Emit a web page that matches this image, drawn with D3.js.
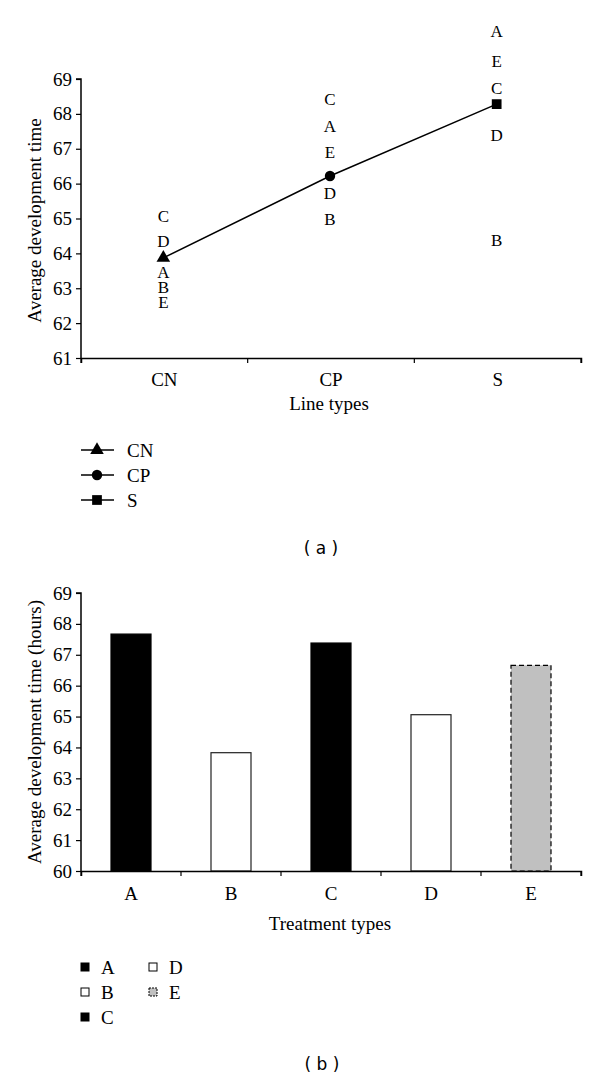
<!DOCTYPE html>
<html>
<head>
<meta charset="utf-8">
<script src="https://cdn.jsdelivr.net/npm/d3@7"></script>
<style>
  html, body { margin: 0; padding: 0; background: #fff; }
</style>
</head>
<body>
<svg id="chart" width="600" height="1078"></svg>
<script>
// ---- Data ----
const lineTypes = ["CN", "CP", "S"];
const lineMeans = [63.87, 66.22, 68.28];
const topTicks = [61, 62, 63, 64, 65, 66, 67, 68, 69];

const treatments = ["A", "B", "C", "D", "E"];
// treatment letter positions for each line type (order A, B, C, D, E)
const cnLetters = [63.44, 63.03, 65.05, 64.33, 62.58];
const cpLetters = [67.63, 64.96, 68.40, 65.71, 66.88];
const sLetters  = [70.36, 64.37, 68.73, 67.37, 69.50];

const treatmentMeans = [67.67, 63.83, 67.38, 65.06, 66.66];
const bottomTicks = [60, 61, 62, 63, 64, 65, 66, 67, 68, 69];
const barFills = ["#000000", "#ffffff", "#000000", "#ffffff", "#c0c0c0"];
const barDash = [null, null, null, null, "5,3"];

const SERIF = '"Liberation Serif", "Times New Roman", serif';
const SANS = '"DejaVu Sans", "Liberation Sans", sans-serif';
const FS = 19;

const svg = d3.select("#chart");
function serif(sel, size) {
  return sel.style("font-family", SERIF).style("font-size", (size || FS) + "px").style("fill", "#000");
}

// ================= (a) line chart =================
const a = { left: 81, right: 581, top: 79, bottom: 358 };
const xA = d3.scaleBand().domain(lineTypes).range([a.left, a.right]);
const yA = d3.scaleLinear().domain([61, 69]).range([a.bottom, a.top]);

const gA = svg.append("g");
const yAxisA = gA.append("g").attr("transform", `translate(${a.left},0)`)
  .call(d3.axisLeft(yA).tickValues(topTicks).tickSize(5).tickPadding(4).tickFormat(d3.format("d")));
const xAxisA = gA.append("g").attr("transform", `translate(0,${a.bottom})`)
  .call(d3.axisBottom(xA).tickSize(5).tickPadding(10));
xAxisA.selectAll(".tick line").remove();
xAxisA.selectAll(".bnd").data(d3.range(lineTypes.length + 1)).enter().append("line")
  .attr("x1", i => a.left + i * xA.step()).attr("x2", i => a.left + i * xA.step())
  .attr("y1", 0).attr("y2", 5).attr("stroke", "#000").attr("stroke-width", 1.2);
[yAxisA, xAxisA].forEach(ax => {
  ax.select(".domain").attr("stroke", "#000").attr("stroke-width", 1.5);
  ax.selectAll(".tick line").attr("stroke", "#000").attr("stroke-width", 1.2);
  serif(ax.selectAll("text"));
});
yAxisA.select(".domain").attr("d", `M-5,${a.top}H0V${a.bottom}`);

serif(gA.append("text").attr("transform", `translate(34,${(a.top + a.bottom) / 2 + 2}) rotate(-90)`)
  .attr("text-anchor", "middle").attr("dominant-baseline", "central"))
  .text("Average development time");
serif(gA.append("text").attr("x", (a.left + a.right) / 2 - 2).attr("y", 410)
  .attr("text-anchor", "middle")).text("Line types");

const ptsA = lineTypes.map((c, i) => [xA(c) + xA.bandwidth() / 2 - 1, yA(lineMeans[i])]);
gA.append("path").attr("d", d3.line()(ptsA)).attr("fill", "none").attr("stroke", "#000").attr("stroke-width", 1.5);
const symTypes = [d3.symbolTriangle, d3.symbolCircle, d3.symbolSquare];
const symSizes = [80, 85, 95];
ptsA.forEach((p, i) => {
  gA.append("path").attr("d", d3.symbol().type(symTypes[i]).size(symSizes[i])())
    .attr("transform", `translate(${p[0]},${p[1]})`).attr("fill", "#000");
});

const letterSets = [cnLetters, cpLetters, sLetters];
letterSets.forEach((vals, i) => {
  const cx = xA(lineTypes[i]) + xA.bandwidth() / 2 - 1;
  serif(gA.selectAll(null).data(vals).enter().append("text")
    .attr("x", cx).attr("y", v => yA(v))
    .attr("text-anchor", "middle").attr("dominant-baseline", "central"), 17)
    .text((v, j) => treatments[j]);
});

// legend (a)
const legA = svg.append("g");
lineTypes.forEach((c, i) => {
  const y = 450 + i * 25;
  legA.append("line").attr("x1", 81).attr("x2", 114).attr("y1", y).attr("y2", y).attr("stroke", "#000").attr("stroke-width", 1.5);
  legA.append("path").attr("d", d3.symbol().type(symTypes[i]).size(symSizes[i])())
    .attr("transform", `translate(97,${y})`).attr("fill", "#000");
  serif(legA.append("text").attr("x", 127).attr("y", y).attr("dominant-baseline", "central")).text(c);
});
svg.append("text").attr("x", 321).attr("y", 548).attr("text-anchor", "middle")
  .attr("dominant-baseline", "central")
  .style("font-family", SANS).style("font-size", "17px").text("( a )");

// ================= (b) bar chart =================
const b = { left: 81, right: 581, top: 593, bottom: 871 };
const xBb = d3.scaleBand().domain(treatments).range([b.left, b.right]);
const yB = d3.scaleLinear().domain([60, 69]).range([b.bottom, b.top]);
const barW = xBb.bandwidth() * 0.4;

const gB = svg.append("g");
gB.selectAll("rect.bar").data(treatments).enter().append("rect")
  .attr("class", "bar")
  .attr("x", d => xBb(d) + xBb.bandwidth() / 2 - barW / 2)
  .attr("width", barW)
  .attr("y", (d, i) => yB(treatmentMeans[i]))
  .attr("height", (d, i) => yB(60) - yB(treatmentMeans[i]))
  .attr("fill", (d, i) => barFills[i])
  .attr("stroke", (d, i) => i === 1 || i === 3 ? "#222" : "#000").attr("stroke-width", 1.2)
  .attr("stroke-dasharray", (d, i) => barDash[i]);

const yAxisB = gB.append("g").attr("transform", `translate(${b.left},0)`)
  .call(d3.axisLeft(yB).tickValues(bottomTicks).tickSize(5).tickPadding(4).tickFormat(d3.format("d")));
const xAxisB = gB.append("g").attr("transform", `translate(0,${b.bottom})`)
  .call(d3.axisBottom(xBb).tickSize(5).tickPadding(11));
xAxisB.selectAll(".tick line").remove();
xAxisB.selectAll(".bnd").data(d3.range(treatments.length + 1)).enter().append("line")
  .attr("x1", i => b.left + i * xBb.step()).attr("x2", i => b.left + i * xBb.step())
  .attr("y1", 0).attr("y2", 5).attr("stroke", "#000").attr("stroke-width", 1.2);
[yAxisB, xAxisB].forEach(ax => {
  ax.select(".domain").attr("stroke", "#000").attr("stroke-width", 1.5);
  ax.selectAll(".tick line").attr("stroke", "#000").attr("stroke-width", 1.2);
  serif(ax.selectAll("text"));
});
yAxisB.select(".domain").attr("d", `M-5,${b.top}H0V${b.bottom}`);

serif(gB.append("text").attr("transform", `translate(34,${(b.top + b.bottom) / 2}) rotate(-90)`)
  .attr("text-anchor", "middle").attr("dominant-baseline", "central"))
  .text("Average development time (hours)");
serif(gB.append("text").attr("x", 330).attr("y", 930)
  .attr("text-anchor", "middle")).text("Treatment types");

// legend (b)
const legB = svg.append("g");
treatments.forEach((t, i) => {
  const col = i < 3 ? 0 : 1;
  const row = i < 3 ? i : i - 3;
  const x = col === 0 ? 81 : 149;
  const y = 967 + row * 25;
  legB.append("rect").attr("x", x).attr("y", y - 4).attr("width", 8).attr("height", 8)
    .attr("fill", barFills[i]).attr("stroke", "#000").attr("stroke-width", 1)
    .attr("stroke-dasharray", barDash[i] ? "2,1" : null);
  serif(legB.append("text").attr("x", x + 20).attr("y", y).attr("dominant-baseline", "central")).text(t);
});
svg.append("text").attr("x", 322).attr("y", 1064).attr("text-anchor", "middle")
  .attr("dominant-baseline", "central")
  .style("font-family", SANS).style("font-size", "17px").text("( b )");
</script>
</body>
</html>
